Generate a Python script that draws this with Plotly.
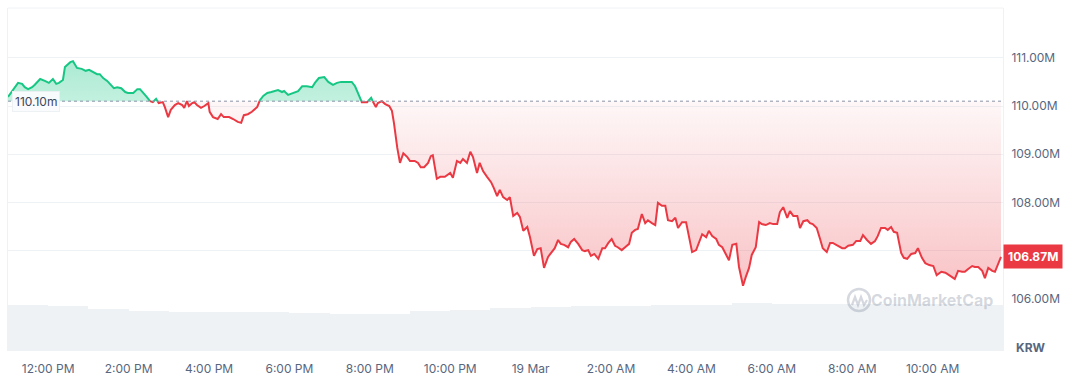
import numpy as np
import pandas as pd
import plotly.graph_objects as go

# ---------------- data ----------------
START = "2025-03-18 11:00"
OPEN_PRICE = 110.10      # M KRW, reference (24h open) price
LAST_PRICE = 106.87      # M KRW

# minutes after START
minutes = [0,10,15,21,25,30,36,40,48,55,61,67,72,76,82,85,93,97,103,110,116,121,127,133,137,142,148,154,158,163,
           169,175,179,187,193,197,201,207,212,216,221,225,231,234,239,
           243,249,254,260,263,267,270,275,278,282,288,293,299,301,306,313,318,322,330,336,
           343,348,352,358,364,372,376,381,387,393,398,403,409,412,418,422,428,433,439,446,
           454,458,464,472,478,485,491,497,504,513,518,522,
           528,536,542,545,549,552,558,563,569,573,576,581,585,590,596,600,607,612,616,621,
           627,631,634,640,645,652,660,664,670,675,679,685,690,694,700,704,709,715,721,725,
           730,734,739,745,
           749,754,760,764,769,775,779,785,790,795,800,806,812,816,821,825,830,836,840,845,
           851,857,861,866,870,875,881,887,891,896,901,906,910,916,921,927,931,936,940,946,
           951,955,961,966,970,976,981,985,991,996,1000,
           1006,1012,1015,1021,1027,1031,1036,1042,1046,1051,1057,1061,1066,1072,1076,1081,1087,1091,1097,1101,
           1106,1110,1116,1121,1125,1131,1137,1142,1148,1152,1157,1163,1167,1172,1178,1182,1187,1193,1197,1201,
           1207,1212,1216,1222,1227,1231,1239,1245,1249,
           1254,1261,1266,1272,1276,1282,1288,1294,1298,1303,1309,1313,1318,1322,1327,1333,1337,1342,1348,1354,
           1358,1364,1369,1375,1381,1386,1393,1399,1403,1409,1413,1418,1424,1428,1433,1439,1443,1448,1454,1458,
           1463,1469,1473,1478,1482]

# price in million KRW
price = [110.19,110.37,110.48,110.46,110.39,110.35,110.39,110.44,110.56,110.52,
         110.48,110.56,110.46,110.48,110.54,110.81,110.91,110.93,110.79,110.77,
         110.73,110.75,110.71,110.66,110.66,110.58,110.52,110.44,110.37,110.39,
         110.37,110.29,110.27,110.27,110.35,110.35,110.29,110.19,110.10,110.08,
         110.15,110.06,110.08,109.98,109.77,
         109.92,110.02,110.06,110.02,109.96,110.10,110.00,110.06,110.08,110.02,
         109.96,110.00,110.06,109.88,109.77,109.73,109.83,109.77,109.77,109.73,
         109.67,109.65,109.81,109.83,109.88,109.98,110.12,110.21,110.27,110.29,
         110.31,110.33,110.29,110.31,110.23,110.25,110.29,110.31,110.41,110.41,
         110.39,110.48,110.58,110.60,110.50,110.44,110.48,110.50,110.50,110.50,
         110.41,110.29,
         110.08,110.08,110.17,110.08,109.98,110.06,110.10,110.04,110.00,109.90,
         109.65,109.13,108.82,109.02,108.94,108.86,108.86,108.82,108.73,108.73,
         108.82,108.96,108.98,108.49,108.53,108.53,108.61,108.51,108.86,108.82,
         108.90,108.82,109.05,108.94,108.61,108.82,108.65,108.53,108.42,108.30,
         108.13,108.26,108.11,108.05,
         108.11,107.72,107.78,107.70,107.41,107.49,107.28,106.89,107.03,107.05,
         106.64,106.87,106.97,107.05,107.22,107.14,107.12,107.07,107.18,107.24,
         107.14,107.01,106.99,107.01,106.89,106.93,106.83,107.05,107.05,107.16,
         107.24,107.10,107.07,107.01,107.07,107.14,107.37,107.43,107.45,107.76,
         107.57,107.63,107.57,107.53,107.99,107.93,107.93,107.63,107.61,107.68,
         107.47,
         107.59,107.59,107.39,106.97,107.01,107.16,107.34,107.28,107.41,107.30,
         107.24,107.12,107.07,106.91,106.80,107.12,107.14,106.66,106.27,106.45,
         106.64,106.91,107.07,107.59,107.55,107.53,107.57,107.55,107.55,107.80,
         107.90,107.68,107.82,107.72,107.72,107.47,107.61,107.63,107.57,107.55,
         107.47,107.24,107.05,106.97,107.16,107.16,107.10,107.05,107.05,
         107.10,107.12,107.20,107.20,107.32,107.22,107.14,107.20,107.30,107.47,
         107.47,107.43,107.49,107.39,107.37,106.95,106.85,106.83,106.93,106.95,
         107.05,106.85,106.74,106.70,106.68,106.49,106.56,106.54,106.51,106.45,
         106.41,106.58,106.56,106.56,106.62,106.68,106.66,106.66,106.58,106.43,
         106.64,106.58,106.56,106.74,106.87]

# hourly volume (relative units), one bar per hour from START
volume = [46,45,42,40.5,39,39,39,38,37,37.5,40,41,43,44,45,45,46,46,48,47.5,47,47,47,47,46]

tick_hours = [1,3,5,7,9,11,13,15,17,19,21,23]
tick_labels = ["12:00 PM","2:00 PM","4:00 PM","6:00 PM","8:00 PM","10:00 PM",
               "19 Mar","2:00 AM","4:00 AM","6:00 AM","8:00 AM","10:00 AM"]
price_ticks = [106,107,108,109,110,111]
price_tick_text = ["106.00M","","108.00M","109.00M","110.00M","111.00M"]

# ---------------- build ----------------
GREEN = "#16c784"
RED = "#ea3943"
GREY = "#58667e"

t0 = pd.Timestamp(START)
tm = np.array(minutes, float)
v = np.array(price, float)
b = OPEN_PRICE

T, V = [], []
for i in range(len(v)):
    if i > 0 and (v[i-1] - b) * (v[i] - b) < 0:
        f = (b - v[i-1]) / (v[i] - v[i-1])
        T.append(tm[i-1] + f * (tm[i] - tm[i-1]))
        V.append(b)
    T.append(tm[i]); V.append(v[i])
T = np.array(T); V = np.array(V)
times = [t0 + pd.Timedelta(minutes=float(m)) for m in T]

up = np.maximum(V, b)
dn = np.minimum(V, b)
g_line = [float(x) if x >= b else None for x in V]
r_line = [float(x) if x <= b else None for x in V]
base = [b] * len(V)

fig = go.Figure()

# volume
vol_x = [t0 + pd.Timedelta(hours=h + 0.5) for h in range(len(volume))]
fig.add_trace(go.Bar(x=vol_x, y=volume, width=3600 * 1000, marker=dict(color="#eff2f5", line_width=0),
                     yaxis="y2", hoverinfo="skip"))

# green fill
fig.add_trace(go.Scatter(x=times, y=base, mode="lines", line=dict(width=0), hoverinfo="skip"))
fig.add_trace(go.Scatter(x=times, y=up, mode="lines", line=dict(width=0), fill="tonexty",
                         fillcolor="rgba(22,199,132,0.3)",
                         fillgradient=dict(type="vertical",
                                           colorscale=[[0, "rgba(22,199,132,0.26)"], [1, "rgba(22,199,132,0.36)"]]),
                         hoverinfo="skip"))
# red fill
fig.add_trace(go.Scatter(x=times, y=base, mode="lines", line=dict(width=0), hoverinfo="skip"))
fig.add_trace(go.Scatter(x=times, y=dn, mode="lines", line=dict(width=0), fill="tonexty",
                         fillcolor="rgba(234,57,67,0.12)",
                         fillgradient=dict(type="vertical",
                                           colorscale=[[0, "rgba(234,57,67,0.30)"], [1, "rgba(234,57,67,0.04)"]]),
                         hoverinfo="skip"))
# lines
fig.add_trace(go.Scatter(x=times, y=g_line, mode="lines", line=dict(color=GREEN, width=2), connectgaps=False))
fig.add_trace(go.Scatter(x=times, y=r_line, mode="lines", line=dict(color=RED, width=2), connectgaps=False))

# axes mapping: plot area 8..351 px vertical; 48.2 px per 1M, 110M at y=106px
PX_PER_M = 48.2
top_val = 110 + (106 - 8) / PX_PER_M
bot_val = 110 - (351 - 106) / PX_PER_M

x_end = t0 + pd.Timedelta(hours=24.75)

fig.update_layout(
    width=1067, height=376,
    margin=dict(l=8, r=64, t=8, b=25, autoexpand=False),
    paper_bgcolor="white", plot_bgcolor="white",
    showlegend=False, hovermode=False,
    font=dict(family="Inter, Roboto, sans-serif", size=12, color=GREY),
    bargap=0,
    xaxis=dict(type="date", range=[t0, x_end], automargin=False,
               tickvals=[t0 + pd.Timedelta(hours=h) for h in tick_hours], ticktext=tick_labels,
               showgrid=False, zeroline=False, showline=False, ticks="",
               tickfont=dict(size=12, color=GREY), ticklabelstandoff=9),
    yaxis=dict(side="right", range=[bot_val, top_val], automargin=False,
               tickvals=price_ticks, ticktext=price_tick_text,
               showgrid=True, gridcolor="#eff2f5", gridwidth=1, zeroline=False,
               showline=True, linecolor="#eff2f5", linewidth=1, mirror=True,
               ticks="", tickfont=dict(size=12, color=GREY), ticklabelstandoff=5),
    yaxis2=dict(domain=[0, 60 / 343], range=[0, 60], visible=False, anchor="x", fixedrange=True),
)

def px2paper(px, py):
    return (px - 8) / 995, (351 - py) / 343

shapes = []
# top border
shapes.append(dict(type="line", xref="paper", yref="paper", x0=0, x1=1, y0=1, y1=1,
                   line=dict(color="#eff2f5", width=1)))
# dotted reference line
shapes.append(dict(type="line", xref="paper", yref="y", x0=0, x1=1, y0=OPEN_PRICE, y1=OPEN_PRICE,
                   line=dict(color="#8a93a6", width=1, dash="dot"), layer="above"))
# watermark logo circle
cx0, cy0 = px2paper(848, 289)
cx1, cy1 = px2paper(870, 311)
shapes.append(dict(type="circle", xref="paper", yref="paper", x0=cx0, x1=cx1, y0=cy1, y1=cy0,
                   line=dict(color="rgba(88,102,126,0.25)", width=2.5)))
pts = [(852, 305), (855, 297), (858, 305), (861, 297), (864, 305), (867, 300)]
pp = [px2paper(*p) for p in pts]
path = "M " + " L ".join(f"{a},{c}" for a, c in pp)
shapes.append(dict(type="path", xref="paper", yref="paper", path=path,
                   line=dict(color="rgba(88,102,126,0.25)", width=2.2)))
fig.update_layout(shapes=shapes)

annos = []
annos.append(dict(xref="paper", yref="y", x=(36 - 8) / 995, y=OPEN_PRICE, text="110.10m",
                  showarrow=False, xanchor="center", yanchor="middle",
                  font=dict(size=12, color="#3d4659", family="Inter, sans-serif"),
                  bgcolor="rgba(250,251,253,0.95)", bordercolor="rgba(236,239,243,0.9)",
                  borderwidth=1, borderpad=2))
annos.append(dict(xref="paper", yref="y", x=1, y=LAST_PRICE, text="<b>%.2fM</b>" % LAST_PRICE,
                  showarrow=False, xanchor="left", yanchor="middle", xshift=0,
                  font=dict(size=12, color="white", family="Inter, sans-serif"),
                  bgcolor=RED, borderpad=4))
kx, ky = px2paper(1031, 347)
annos.append(dict(xref="paper", yref="paper", x=kx, y=ky, text="<b>KRW</b>", showarrow=False,
                  xanchor="center", yanchor="middle", font=dict(size=12, color=GREY)))
wx, wy = px2paper(932, 300)
annos.append(dict(xref="paper", yref="paper", x=wx, y=wy, text="<b>CoinMarketCap</b>", showarrow=False,
                  xanchor="center", yanchor="middle",
                  font=dict(size=16, color="rgba(88,102,126,0.25)")))
fig.update_layout(annotations=annos)

fig.write_html("out.html")
